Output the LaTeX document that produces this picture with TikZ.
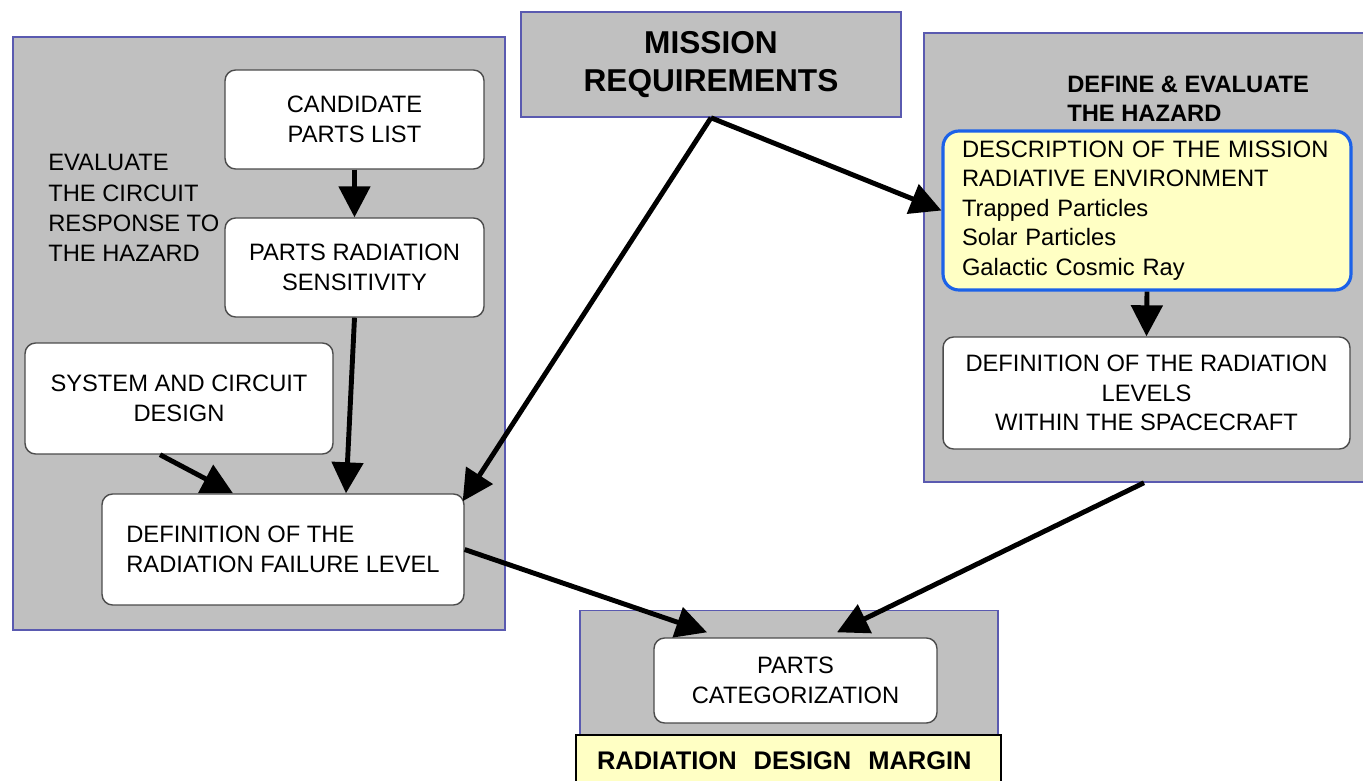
\documentclass[tikz,border=0pt]{standalone}
\usepackage{fontspec}
\setmainfont{Liberation Sans}
\usepackage{xcolor}
\usepackage{tikz}
\usetikzlibrary{arrows.meta,positioning}
\definecolor{panelgray}{HTML}{C0C0C0}
\definecolor{panelblue}{HTML}{5A5AB0}
\definecolor{envyellow}{HTML}{FFFFC4}
\definecolor{envblue}{HTML}{1C62E8}
\tikzset{
  PN/.style={draw=panelblue, fill=panelgray, line width=0.9pt, inner sep=0pt},
  WB/.style={draw=black!70, fill=white, rounded corners=6pt, align=center,
             font=\fontsize{13.5}{16.8}\selectfont, line width=0.8pt, inner sep=0pt},
  SA/.style={-{Triangle[length=0.62cm,width=0.62cm]}, line width=2.8pt}
}

\begin{document}
\begin{tikzpicture}[x=0.02cm, y=-0.02cm,
  TL/.style={align=left, font=\fontsize{13.5}{17.2}\selectfont, inner sep=0pt},
  TB/.style={align=left, font=\bfseries\fontsize{13.5}{16.8}\selectfont, inner sep=0pt}
]
\useasboundingbox (0,0) rectangle (1363,781);

% Panels
\node[PN, minimum width=9.84cm, minimum height=11.86cm] (EVP) at (259,333.5) {};
\node[PN, minimum width=8.80cm, minimum height=8.98cm]  (HZP) at (1144,257.5) {};
\node[PN, minimum width=8.36cm, minimum height=2.90cm]  (PCP) at (789,683) {};
\node[PN, minimum width=7.60cm, minimum height=2.10cm, align=center,
      font=\bfseries\fontsize{18}{21.6}\selectfont] (MR) at (711,64.5)
    {MISSION\\REQUIREMENTS};

% Left panel
\node[TL, anchor=west] (EVT) at (48,208)
    {EVALUATE\\THE CIRCUIT\\RESPONSE TO\\THE HAZARD};
\node[WB, minimum width=5.18cm, minimum height=1.98cm] (CPL) at (354.5,119.5)
    {CANDIDATE\\PARTS LIST};
\node[WB, minimum width=5.18cm, minimum height=1.98cm] (PRS) at (354.5,267.5)
    {PARTS RADIATION\\SENSITIVITY};
\node[WB, minimum width=6.16cm, minimum height=2.22cm] (SCD) at (179,398.5)
    {SYSTEM AND CIRCUIT\\DESIGN};
\node[WB, minimum width=7.24cm, minimum height=2.22cm, align=left] (DFL) at (283,549.5)
    {DEFINITION OF THE\\RADIATION FAILURE LEVEL};

% Right panel
\node[TB, anchor=west] (HZT) at (1067,99)
    {DEFINE \& EVALUATE\\THE HAZARD};
\node[WB, draw=envblue, fill=envyellow, line width=1.8pt, rounded corners=9pt,
      minimum width=8.16cm, minimum height=3.18cm, align=left,
      text width=7.4cm, inner xsep=0.38cm] (ENV) at (1147,210.5)
    {DESCRIPTION OF THE MISSION\\RADIATIVE ENVIRONMENT\\Trapped Particles\\Solar Particles\\Galactic Cosmic Ray};
\node[WB, minimum width=8.14cm, minimum height=2.24cm] (DRL) at (1146.5,393)
    {DEFINITION OF THE RADIATION\\LEVELS\\WITHIN THE SPACECRAFT};

% Bottom
\node[WB, minimum width=5.66cm, minimum height=1.70cm] (PC) at (795.5,680.5)
    {PARTS\\CATEGORIZATION};
\node[draw=black, fill=envyellow, line width=1.2pt, anchor=north west,
      minimum width=8.5cm, text width=7.66cm, align=left, inner xsep=0.42cm,
      inner ysep=0pt, text height=0.68cm, text depth=0.7cm,
      font=\bfseries\fontsize{14.5}{17}\selectfont] (RDM) at (575,734)
    {RADIATION\ \ DESIGN\ \ MARGIN};

% -- Arrows --
\draw[SA] (CPL.south) -- (PRS.north);
\draw[SA] (PRS.south) -- ([xshift=1.26cm]DFL.north);
\draw[SA] ([xshift=-0.38cm]SCD.south) -- ([xshift=-1.0cm]DFL.north);
\draw[SA] (MR.south) -- ([xshift=-0.04cm,yshift=-0.16cm]DFL.north east);
\draw[SA] (MR.south) -- (ENV.west);
\draw[SA] (ENV.south) -- (DRL.north);
\draw[SA] (DFL.east) -- ([xshift=-1.77cm,yshift=0.1cm]PC.north);
\draw[SA] (HZP.south) -- ([xshift=0.83cm,yshift=0.1cm]PC.north);

\end{tikzpicture}
\end{document}
